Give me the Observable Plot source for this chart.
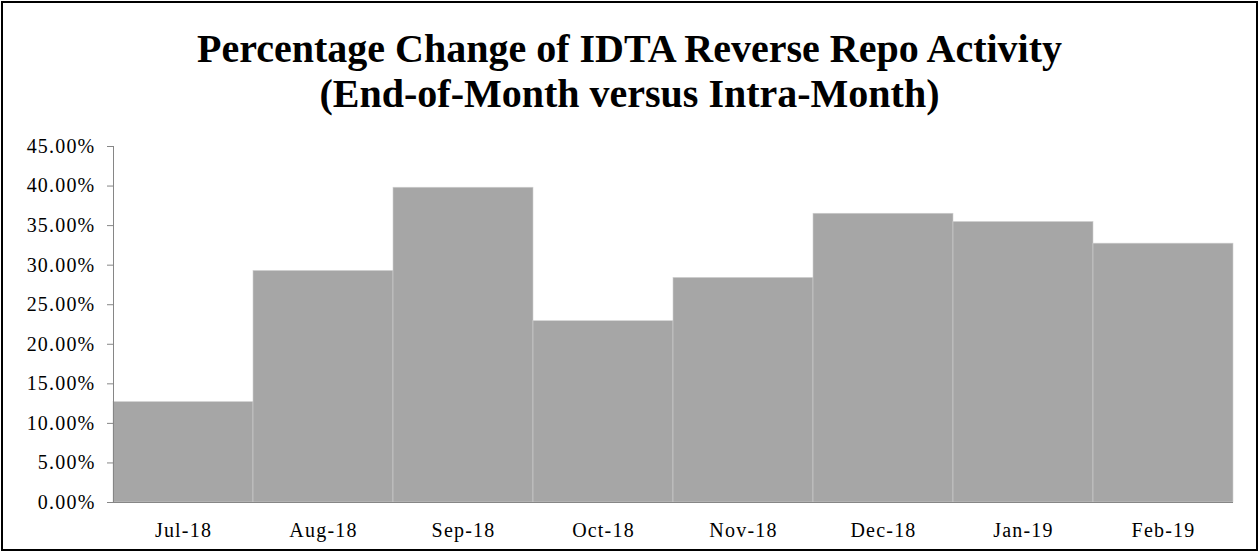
<!DOCTYPE html>
<html>
<head>
<meta charset="utf-8">
<script src="https://cdn.jsdelivr.net/npm/d3@7"></script>
<script src="https://cdn.jsdelivr.net/npm/@observablehq/plot@0.6"></script>
<style>
  html, body { margin: 0; padding: 0; background: #fff; }
  #wrap { position: relative; width: 1259px; height: 552px; overflow: hidden; background: #fff; }
  #frame { position: absolute; left: 1px; top: 1px; width: 1257px; height: 550px; box-sizing: border-box; border: 2px solid #000; pointer-events: none; }
  #title { position: absolute; left: 0; top: 0; width: 1259px; text-align: center;
    font-family: "Liberation Serif", "Times New Roman", serif; font-weight: bold; font-size: 40px; line-height: 45px; color: #000; padding-top: 26px; }
  #chart { position: absolute; left: 0; top: 130px; }
  #chart text { letter-spacing: 1.2px; }
</style>
</head>
<body>
<div id="wrap">
  <div id="title">Percentage Change of IDTA Reverse Repo Activity<br>(End-of-Month versus Intra-Month)</div>
  <div id="chart"></div>
  <div id="frame"></div>
</div>
<script>
const months = ["Jul-18", "Aug-18", "Sep-18", "Oct-18", "Nov-18", "Dec-18", "Jan-19", "Feb-19"];
const values = [0.1269, 0.2927, 0.3979, 0.2292, 0.2839, 0.3650, 0.3546, 0.3272];
const yTicks = [0, 0.05, 0.10, 0.15, 0.20, 0.25, 0.30, 0.35, 0.40, 0.45];

const data = months.map((m, i) => ({month: m, value: values[i]}));

const plot = Plot.plot({
  width: 1259,
  height: 422,
  marginLeft: 113,
  marginRight: 26,
  marginTop: 16,
  marginBottom: 50,
  style: {fontFamily: "'Liberation Serif', 'Times New Roman', serif", fontSize: "20px", color: "#000", background: "transparent", overflow: "visible"},
  x: {domain: months, padding: 0, label: null},
  y: {domain: [0, 0.45], label: null},
  marks: [
    Plot.barY(data, {x: "month", y: "value", fill: "#a6a6a6", stroke: "#d0d0d0", strokeWidth: 0.6, inset: 0}),
    Plot.axisY({ticks: yTicks, tickFormat: d => (d * 100).toFixed(2) + "%", tickSize: 6, tickPadding: 12, stroke: "#868686", fontSize: 20, fill: "#000"}),
    Plot.frame({anchor: "left", stroke: "#868686", strokeWidth: 1}),
    Plot.axisX({tickSize: 0, tickPadding: 20, fontSize: 20, fill: "#000"}),
    Plot.ruleY([0], {stroke: "#868686", strokeWidth: 1})
  ]
});
document.getElementById("chart").appendChild(plot);
</script>
</body>
</html>
